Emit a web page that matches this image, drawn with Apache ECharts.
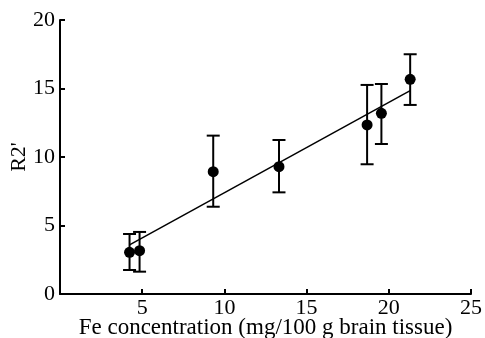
<!DOCTYPE html>
<html><head><meta charset="utf-8">
<script src="https://cdn.jsdelivr.net/npm/echarts@6/dist/echarts.min.js"></script>
<style>html,body{margin:0;padding:0;background:#fff}#c{width:485px;height:338px}</style>
</head><body><div id="c"></div>
<script>
var feConc = [4.23, 4.84, 9.32, 13.32, 18.68, 19.55, 21.3];
var r2Mean = [3.04, 3.16, 8.93, 9.29, 12.34, 13.19, 15.67];
var errLow = [1.75, 1.63, 6.37, 7.42, 9.47, 10.95, 13.8];
var errHigh = [4.38, 4.53, 11.56, 11.24, 15.26, 15.33, 17.5];
var fitX = [4.23, 21.3];
var fitY = [3.58, 14.84];
var xTicks = [0, 5, 10, 15, 20, 25];
var yTicks = [0, 5, 10, 15, 20];

var font = 'Liberation Serif';
var chart = echarts.init(document.getElementById('c'));
var errData = feConc.map(function(x, i){ return [x, errLow[i], errHigh[i]]; });
var ptData = feConc.map(function(x, i){ return [x, r2Mean[i]]; });
var fitData = fitX.map(function(x, i){ return [x, fitY[i]]; });

chart.setOption({
  animation: false,
  grid: {left: 60, right: 14, top: 20, bottom: 44, containLabel: false, outerBoundsMode: 'none'},
  xAxis: {
    type: 'value', min: xTicks[0], max: xTicks[xTicks.length-1], interval: 5,
    splitLine: {show: false},
    axisLine: {lineStyle: {color: '#000', width: 2}},
    axisTick: {inside: true, length: 5, lineStyle: {color: '#000', width: 2}},
    axisLabel: {showMinLabel: false, color: '#000', fontFamily: font, fontSize: 22, margin: 3},
    name: 'Fe concentration (mg/100 g brain tissue)', nameLocation: 'middle', nameGap: 22,
    nameMoveOverlap: false,
    nameTextStyle: {color: '#000', fontFamily: font, fontSize: 23}
  },
  yAxis: {
    type: 'value', min: yTicks[0], max: yTicks[yTicks.length-1], interval: 5,
    splitLine: {show: false},
    axisLine: {lineStyle: {color: '#000', width: 2}},
    axisTick: {inside: true, length: 5, lineStyle: {color: '#000', width: 2}},
    axisLabel: {color: '#000', fontFamily: font, fontSize: 22, margin: 5},
    name: "R2'", nameLocation: 'middle', nameGap: 30, nameRotate: 90,
    nameMoveOverlap: false,
    nameTextStyle: {color: '#000', fontFamily: font, fontSize: 22}
  },
  series: [
    {
      type: 'line', data: fitData, symbol: 'none',
      lineStyle: {color: '#000', width: 1.5}, z: 2
    },
    {
      type: 'custom', data: errData, z: 3,
      renderItem: function(params, api){
        var x = api.value(0);
        var lo = api.coord([x, api.value(1)]);
        var hi = api.coord([x, api.value(2)]);
        var hw = 6.5;
        var st = {stroke: '#000', lineWidth: 2};
        return {type: 'group', children: [
          {type: 'line', shape: {x1: lo[0], y1: lo[1], x2: hi[0], y2: hi[1]}, style: st},
          {type: 'line', shape: {x1: lo[0]-hw, y1: lo[1], x2: lo[0]+hw, y2: lo[1]}, style: st},
          {type: 'line', shape: {x1: hi[0]-hw, y1: hi[1], x2: hi[0]+hw, y2: hi[1]}, style: st}
        ]};
      }
    },
    {
      type: 'scatter', data: ptData, symbol: 'circle', symbolSize: 11,
      itemStyle: {color: '#000', opacity: 1}, z: 4
    }
  ]
});
</script></body></html>
